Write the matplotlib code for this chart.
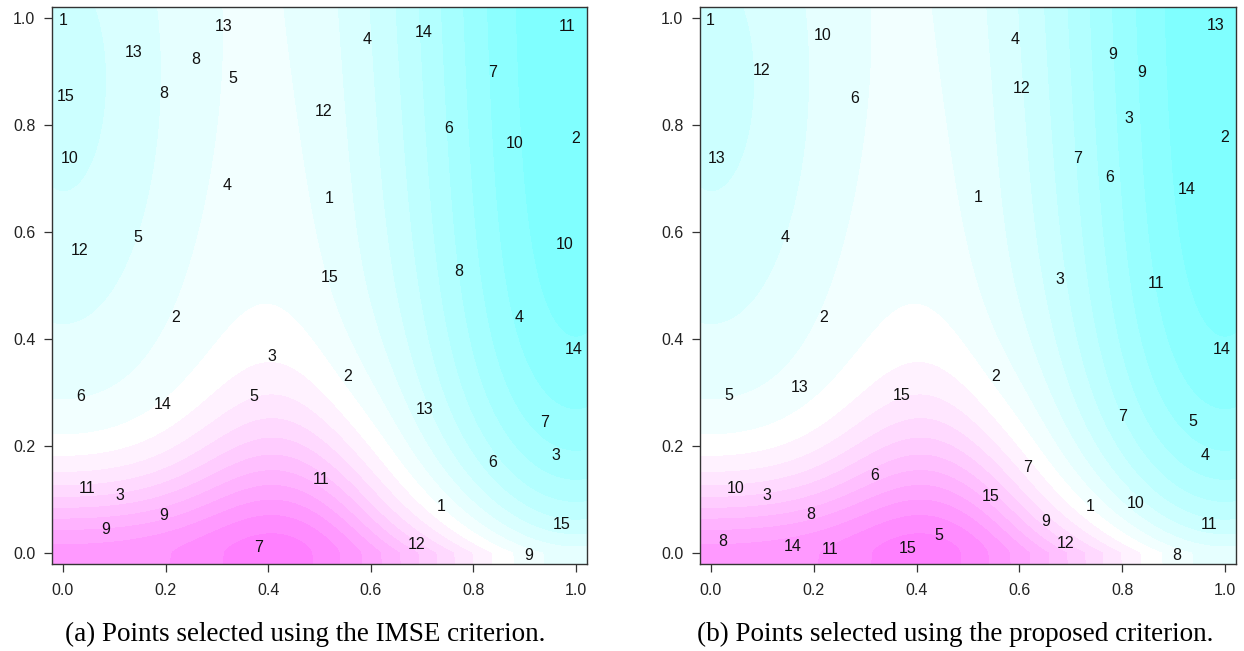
"""Selected design points over the predicted surface, IMSE vs proposed criterion."""
import matplotlib
matplotlib.use('Agg')
import matplotlib.pyplot as plt
import numpy as np
from matplotlib.colors import ListedColormap, BoundaryNorm, hsv_to_rgb
from matplotlib.ticker import FormatStrFormatter

# point labels (batch number) and their positions
imse_lab = [1, 1, 1, 2, 2, 2, 3, 3, 3, 4, 4, 4, 5, 5, 5, 6, 6, 6, 7, 7, 7, 8, 8, 8,
            9, 9, 9, 10, 10, 10, 11, 11, 11, 12, 12, 12, 13, 13, 13, 14, 14, 14, 15, 15, 15]
imse_x = [0.000, 0.519, 0.738, 0.999, 0.220, 0.554, 0.407, 0.110, 0.961,
          0.320, 0.592, 0.889, 0.332, 0.146, 0.371, 0.752, 0.035, 0.838,
          0.838, 0.381, 0.938, 0.259, 0.196, 0.772, 0.196, 0.083, 0.907,
          0.012, 0.881, 0.977, 0.982, 0.047, 0.504, 0.033, 0.507, 0.689,
          0.137, 0.314, 0.704, 0.704, 0.194, 0.995, 0.006, 0.519, 0.971]
imse_y = [0.995, 0.663, 0.087, 0.775, 0.440, 0.330, 0.367, 0.108, 0.182,
          0.686, 0.959, 0.440, 0.887, 0.589, 0.293, 0.793, 0.293, 0.170,
          0.898, 0.010, 0.244, 0.923, 0.859, 0.526, 0.070, 0.044, -0.004,
          0.737, 0.766, 0.576, 0.985, 0.120, 0.138, 0.566, 0.825, 0.016,
          0.936, 0.985, 0.269, 0.973, 0.277, 0.381, 0.854, 0.515, 0.054]

prop_lab = imse_lab
prop_x = [-0.002, 0.519, 0.737, 0.999, 0.219, 0.553, 0.813, 0.679, 0.108,
          0.145, 0.591, 0.961, 0.034, 0.938, 0.443, 0.280, 0.776, 0.319,
          0.714, 0.800, 0.616, 0.194, 0.023, 0.906, 0.782, 0.838, 0.652,
          0.217, 0.047, 0.827, 0.865, 0.231, 0.969, 0.099, 0.605, 0.689,
          0.011, 0.982, 0.172, 0.926, 0.159, 0.994, 0.371, 0.382, 0.544]
prop_y = [0.996, 0.664, 0.086, 0.776, 0.440, 0.330, 0.812, 0.512, 0.108,
          0.589, 0.959, 0.182, 0.294, 0.245, 0.033, 0.850, 0.701, 0.145,
          0.738, 0.255, 0.159, 0.071, 0.022, -0.004, 0.931, 0.898, 0.059,
          0.967, 0.121, 0.092, 0.503, 0.006, 0.053, 0.901, 0.868, 0.017,
          0.738, 0.986, 0.310, 0.679, 0.012, 0.381, 0.294, 0.009, 0.105]

captions = ['(a) Points selected using the IMSE criterion.',
            '(b) Points selected using the proposed criterion.']
ticks = [0.0, 0.2, 0.4, 0.6, 0.8, 1.0]

# background surface (predicted response), approximated
xlim = (-0.0214, 1.0214)
ylim = (-0.0206, 1.0206)
gx = np.linspace(xlim[0], xlim[1], 400)
gy = np.linspace(ylim[0], ylim[1], 400)
X, Y = np.meshgrid(gx, gy)

amp = 8.6 + 2.0 * np.exp(-(X - 0.43)**2 / (2 * 0.12**2))
sw = 0.14 + 0.085 * np.exp(-(X - 0.42)**2 / (2 * 0.13**2)) + 0.04 * np.exp(-(X - 1)**2 / (2 * 0.2**2))
qq = 1.6 - 0.65 / (1 + np.exp(-(X - 0.58) / 0.04))
hill = amp * np.exp(-(np.clip(Y, 0, None) / sw)**qq)
well_r = -10.5 * np.exp(-(X - 1)**2 / (2 * (0.23 + 0.04 * Y)**2))
well_l = -3.8 * np.exp(-X**2 / (2 * 0.20**2)) * np.exp(-(Y - 0.88)**2 / (2 * 0.5**2))
Z = np.clip(hill + well_r + well_l, -10.49, 10.49)

# R's cm.colors(21)
n = 21
k = n // 2
sat = list(np.linspace(0.5, 0, k + 1)) + list(np.linspace(0, 0.5, k + 1)[1:])
hues = [0.5] * (k + 1) + [10 / 12] * k
cols = [hsv_to_rgb((h, s, 1.0)) for h, s in zip(hues, sat)]
levels = np.arange(-10.5, 11.0, 1.0)
cmap = ListedColormap(cols)
norm = BoundaryNorm(levels, cmap.N)

fig = plt.figure(figsize=(12.44, 6.51), dpi=100)
axes = [fig.add_axes([52 / 1244, 87 / 651, 535 / 1244, 557 / 651]),
        fig.add_axes([700 / 1244, 87 / 651, 536 / 1244, 557 / 651])]

for ax, px, py, lab in [(axes[0], imse_x, imse_y, imse_lab), (axes[1], prop_x, prop_y, prop_lab)]:
    ax.contourf(X, Y, Z, levels=levels, cmap=cmap, norm=norm)
    for x, y, t in zip(px, py, lab):
        ax.text(x, y, str(t), ha='center', va='center', fontsize=11.5,
                family='Liberation Sans', color='#111111')
    ax.set_xlim(xlim)
    ax.set_ylim(ylim)
    ax.set_xticks(ticks)
    ax.set_yticks(ticks)
    ax.xaxis.set_major_formatter(FormatStrFormatter('%.1f'))
    ax.yaxis.set_major_formatter(FormatStrFormatter('%.1f'))
    ax.tick_params(direction='out', length=6, width=0.9, color='#333333',
                   labelsize=11.5, labelcolor='#222222')
    ax.tick_params(axis='x', pad=8)
    ax.tick_params(axis='y', pad=6)
    for lbl in ax.get_xticklabels() + ax.get_yticklabels():
        lbl.set_family('Liberation Sans')
    for sp in ax.spines.values():
        sp.set_color('#333333')
        sp.set_linewidth(1.0)

fig.text(305 / 1244, 17 / 651, captions[0], ha='center', va='center',
         fontsize=19.5, family='Liberation Serif')
fig.text(955 / 1244, 17 / 651, captions[1], ha='center', va='center',
         fontsize=19.5, family='Liberation Serif')

plt.savefig('out.png', dpi=100)
plt.close()
